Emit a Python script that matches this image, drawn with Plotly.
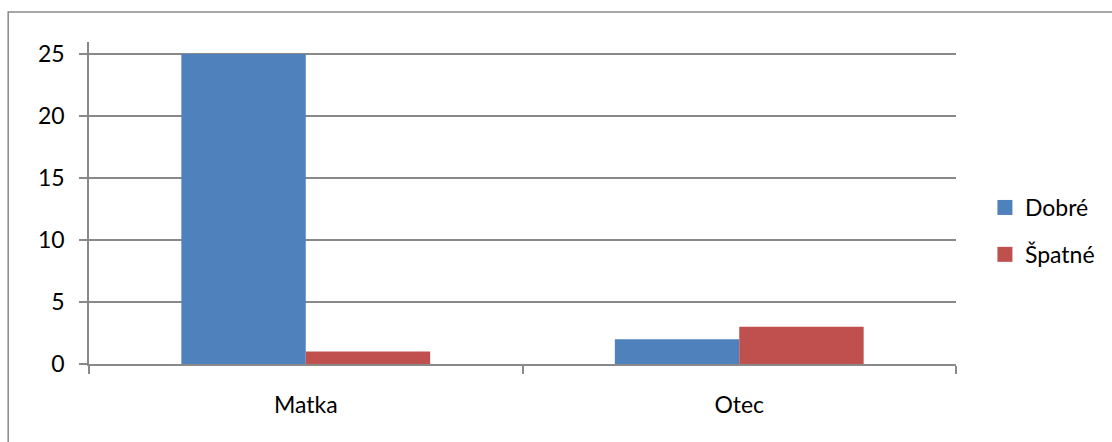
import plotly.graph_objects as go

categories = ["Matka", "Otec"]
series_names = ["Dobré", "Špatné"]
dobre = [25, 2]
spatne = [1, 3]
y_ticks = [0, 5, 10, 15, 20, 25]

colors = ["#4F81BD", "#C0504D"]
FONT = "Lato"
GRAY = "#898989"

fig = go.Figure()
for name, vals, col in zip(series_names, [dobre, spatne], colors):
    fig.add_trace(go.Bar(x=categories, y=vals, name=name, marker=dict(color=col, line=dict(width=0)),
                         showlegend=False))
for name, col in zip(series_names, colors):
    fig.add_trace(go.Scatter(x=[None], y=[None], mode="markers", name=name, legendgroup=name,
                             marker=dict(symbol="square", size=15, color=col, line=dict(width=0))))

W, H = 1112, 442
L, R, T, B = 89, 958, 42, 364
pw, ph = R - L, B - T
def px(x):
    return (x - L) / pw
def py(y):
    return (B - y) / ph

fig.update_layout(
    width=W, height=H,
    margin=dict(l=L, r=W - R, t=T, b=H - B),
    paper_bgcolor="white", plot_bgcolor="white",
    barmode="group", bargap=0.426, bargroupgap=0,
    font=dict(family=FONT, size=23, color="black"),
    legend=dict(x=px(987), xanchor="left", y=py(231), yanchor="middle",
                font=dict(size=23), tracegroupgap=14, itemclick=False, itemwidth=30),
    xaxis=dict(type="category", showline=True, linecolor=GRAY, linewidth=1.5,
               ticks="outside", tickson="boundaries", ticklen=8, tickwidth=1.5, tickcolor=GRAY,
               showgrid=False, ticklabelstandoff=20),
    yaxis=dict(range=[0, 25 * ph / (B - 54)], tickvals=y_ticks, showline=True, linecolor=GRAY, linewidth=1.5,
               ticks="outside", ticklen=8, tickwidth=1.5, tickcolor=GRAY,
               showgrid=True, gridcolor=GRAY, gridwidth=1.5, zeroline=False,
               ticklabelstandoff=10),
    shapes=[dict(type="rect", xref="paper", yref="paper", x0=px(8), x1=px(1125), y0=py(455), y1=py(12),
                 line=dict(color=GRAY, width=1.5), fillcolor="rgba(0,0,0,0)", layer="below")],
)

fig.write_html("out.html", config={"displayModeBar": False},
               post_script="document.body.style.margin='0';document.body.style.overflow='hidden';")
